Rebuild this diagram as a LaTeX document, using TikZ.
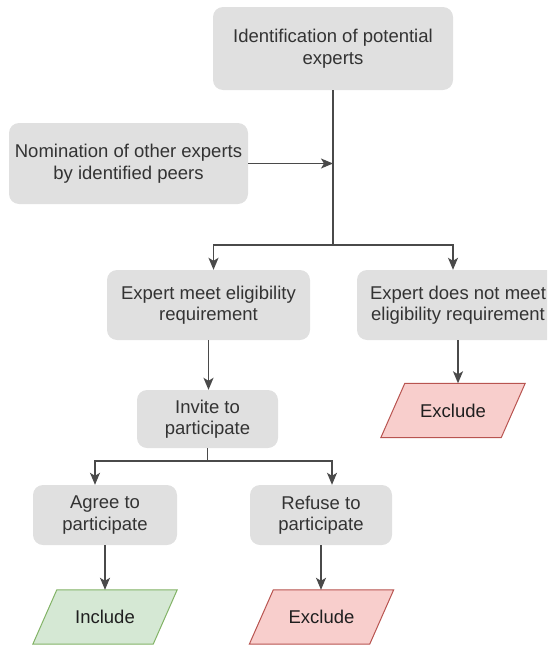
\documentclass[tikz,border=0pt]{standalone}
\usepackage{fontspec}
\setmainfont{Liberation Sans}
\usetikzlibrary{arrows.meta,backgrounds}
\definecolor{boxgray}{HTML}{E0E0E0}
\definecolor{linegray}{HTML}{4A4A4A}
\definecolor{txt}{HTML}{333333}
\definecolor{gfill}{HTML}{D5E8D4}
\definecolor{gline}{HTML}{82B366}
\definecolor{rfill}{HTML}{F8CECC}
\definecolor{rline}{HTML}{B85450}
\begin{document}
\begin{tikzpicture}[x=1pt,y=-1pt,
  box/.style={fill=boxgray, rounded corners=10pt, align=center, text=txt,
    font=\fontsize{18.5}{21.5}\selectfont, inner sep=0pt},
  para/.style={align=center, text=black!88, font=\fontsize{18.5}{21.5}\selectfont,
    inner sep=0pt, minimum width=120pt, minimum height=54pt},
  paraline/.style={line width=1pt},
  conn/.style={draw=linegray, line width=1.4pt},
  arr/.style={conn, -{Stealth[length=12pt,width=10pt,inset=3pt]}}]
\useasboundingbox (0,0) rectangle (547,645);
\clip (0,0) rectangle (547,645);

\node[box, minimum width=240pt, minimum height=83pt] (top) at (333,48.5) {Identification of potential\\experts};
\node[box, minimum width=239pt, minimum height=81pt] (nom) at (128.5,163.5) {Nomination of other experts\\by identified peers};
\node[box, minimum width=203pt, minimum height=70pt] (meet) at (208.5,305) {Expert meet eligibility\\requirement};
\node[box, minimum width=202pt, minimum height=70pt] (notmeet) at (458,305) {Expert does not meet\\eligibility requirement};
\node[box, minimum width=141pt, minimum height=58pt] (invite) at (207.5,419) {Invite to\\participate};
\node[box, minimum width=144pt, minimum height=60pt] (agree) at (105,515) {Agree to\\participate};
\node[box, minimum width=142pt, minimum height=60pt] (refuse) at (321,515) {Refuse to\\participate};
\node[para] (exc1) at (453,410.5) {Exclude};
\node[para] (inc) at (105,617) {Include};
\node[para] (exc2) at (321.5,617) {Exclude};

\begin{scope}[on background layer]
\foreach \n/\f/\d in {exc1/rfill/rline, inc/gfill/gline, exc2/rfill/rline}
  \filldraw[paraline, fill=\f, draw=\d] ([xshift=12pt]\n.north west) -- ([xshift=12pt]\n.north east)
    -- ([xshift=-12pt]\n.south east) -- ([xshift=-12pt]\n.south west) -- cycle;
\end{scope}

\coordinate (j1) at (333,245);
\draw[conn] (top.south) -- (j1);
\draw[arr] (j1) -| ([xshift=5pt]meet.north);
\draw[arr] (j1) -| ([xshift=-5pt]notmeet.north);
\draw[arr] (nom.east) -- (nom.east -| top.south);
\draw[arr] (meet.south) -- (meet.south |- invite.north);
\coordinate (j2) at (207.5,461);
\draw[conn] (invite.south) -- (j2);
\draw[arr] (j2) -| ([xshift=-10pt]agree.north);
\draw[arr] (j2) -| ([xshift=11pt]refuse.north);
\draw[arr] (agree.south) -- (agree.south |- inc.north);
\draw[arr] (refuse.south) -- (refuse.south |- exc2.north);
\draw[arr] (notmeet.south) -- (notmeet.south |- exc1.north);
\end{tikzpicture}
\end{document}
